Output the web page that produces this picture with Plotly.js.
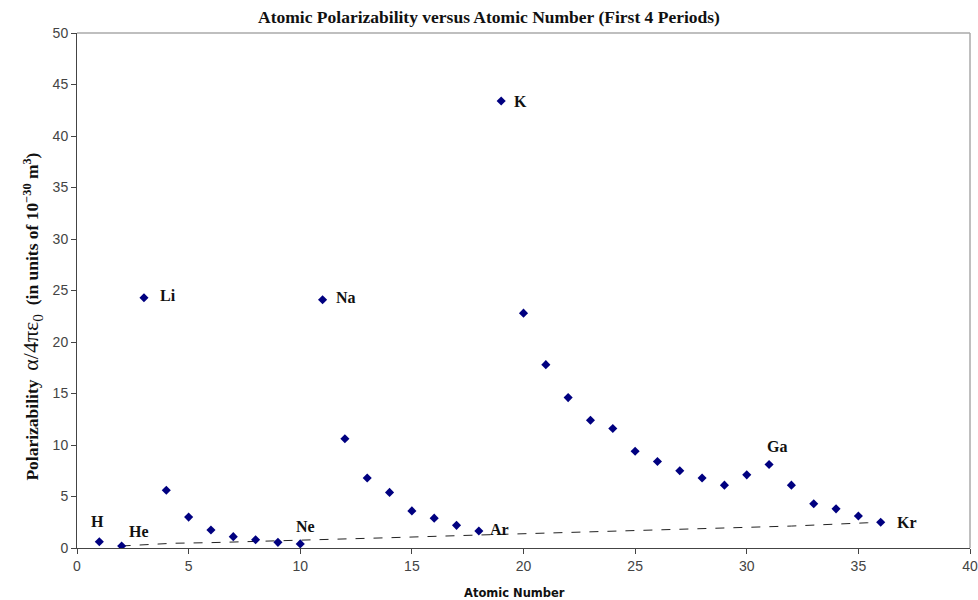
<!DOCTYPE html>
<html>
<head>
<meta charset="utf-8">
<script src="https://cdn.plot.ly/plotly-3.0.1.min.js"></script>
<style>html,body{margin:0;padding:0;background:#fff;}#chart{width:978px;height:600px;}</style>
</head>
<body>
<div id="chart"></div>
<script>
// Atomic numbers 1..36 and polarizability (10^-30 m^3)
const atomicNumber = [1,2,3,4,5,6,7,8,9,10,11,12,13,14,15,16,17,18,19,20,21,22,23,24,25,26,27,28,29,30,31,32,33,34,35,36];
const polarizability = [0.6,0.2,24.3,5.6,3.0,1.75,1.1,0.8,0.55,0.4,24.1,10.6,6.8,5.4,3.6,2.9,2.2,1.65,43.4,22.8,17.8,14.6,12.4,11.6,9.4,8.4,7.5,6.8,6.1,7.1,8.1,6.1,4.3,3.8,3.1,2.5];

// Dashed reference line
const lineX = [2,4.3,6,9.6,14,18,20.7,24,30.3,32,35.4,36];
const lineY = [0.2,0.46,0.52,0.71,1.0,1.26,1.42,1.65,1.97,2.13,2.45,2.5];

// Element labels
const labelNames = ["H","He","Li","Ne","Na","Ar","K","Ga","Kr"];
const labelZ     = [1,2,3,10,11,18,19,31,36];

const xTicks = [0,5,10,15,20,25,30,35,40];
const yTicks = [0,5,10,15,20,25,30,35,40,45,50];

// label placement styling (pixel offsets)
const labelStyle = {
  H:  {xanchor:'center', xshift:-2, yshift:20},
  He: {xanchor:'left',   xshift:5,  yshift:14},
  Li: {xanchor:'left',   xshift:14, yshift:2},
  Ne: {xanchor:'center', xshift:5,  yshift:17},
  Na: {xanchor:'left',   xshift:11, yshift:2},
  Ar: {xanchor:'left',   xshift:9,  yshift:2},
  K:  {xanchor:'left',   xshift:11, yshift:-1},
  Ga: {xanchor:'center', xshift:8,  yshift:18},
  Kr: {xanchor:'left',   xshift:14, yshift:0}
};

const annotations = labelNames.map((n,i) => {
  const z = labelZ[i];
  const s = labelStyle[n];
  return {
    x: z, y: polarizability[atomicNumber.indexOf(z)], xref:'x', yref:'y',
    text: '<b>' + n + '</b>', showarrow:false, xanchor:s.xanchor, yanchor:'middle',
    xshift:s.xshift, yshift:s.yshift,
    font:{family:'Liberation Serif, Times New Roman, serif', size:16, color:'#111'}
  };
});

annotations.push({
  xref:'paper', yref:'paper', x:-0.05, y:0.45, xanchor:'center', yanchor:'middle',
  textangle:-90, showarrow:false,
  text:'<b>Polarizability</b>  <span style="font-size:22px">α/4πε<sub>0</sub></span>  <b>(in units of 10<sup>−30</sup> m<sup>3</sup>)</b>',
  font:{family:'Liberation Serif, Times New Roman, serif', size:17.5, color:'#111'}
});
annotations.push({
  xref:'paper', yref:'paper', x:0.49, y:-0.087, xanchor:'center', yanchor:'middle',
  showarrow:false, text:'<b>Atomic Number</b>',
  font:{family:'DejaVu Sans, Liberation Sans, sans-serif', size:11.5, color:'#111'}
});

const traces = [
  {
    x: lineX, y: lineY, type:'scatter', mode:'lines',
    line:{color:'#222', width:1, dash:'dash'}, hoverinfo:'skip', showlegend:false
  },
  {
    x: atomicNumber, y: polarizability, type:'scatter', mode:'markers',
    marker:{symbol:'diamond', size:7, color:'#000080'}, showlegend:false
  }
];

const layout = {
  width:978, height:600,
  margin:{l:77, r:8, t:33, b:52},
  paper_bgcolor:'#fff', plot_bgcolor:'#fff',
  title:{text:'<b>Atomic Polarizability versus Atomic Number (First 4 Periods)</b>',
         font:{family:'Liberation Serif, Times New Roman, serif', size:17.5, color:'#111'},
         x:0.5, xref:'container', y:0.972, yanchor:'middle'},
  xaxis:{range:[0,40], tickvals:xTicks, ticktext:xTicks.map(String),
         showgrid:false, zeroline:false, showline:true, linecolor:'#444', linewidth:1,
         ticks:'outside', ticklen:5, tickcolor:'#444',
         tickfont:{family:'Liberation Sans, Arial, sans-serif', size:14, color:'#444'}},
  yaxis:{range:[0,50], tickvals:yTicks, ticktext:yTicks.map(String),
         showgrid:false, zeroline:false, showline:true, linecolor:'#444', linewidth:1,
         ticks:'outside', ticklen:5, tickcolor:'#444',
         tickfont:{family:'Liberation Sans, Arial, sans-serif', size:14, color:'#444'}},
  shapes:[
    {type:'line', xref:'paper', yref:'paper', x0:0, x1:1, y0:1, y1:1, line:{color:'#aaa', width:1.5}},
    {type:'line', xref:'paper', yref:'paper', x0:1, x1:1, y0:0, y1:1, line:{color:'#aaa', width:1.5}}
  ],
  annotations: annotations
};

Plotly.newPlot('chart', traces, layout, {displayModeBar:false, staticPlot:true});
</script>
</body>
</html>
